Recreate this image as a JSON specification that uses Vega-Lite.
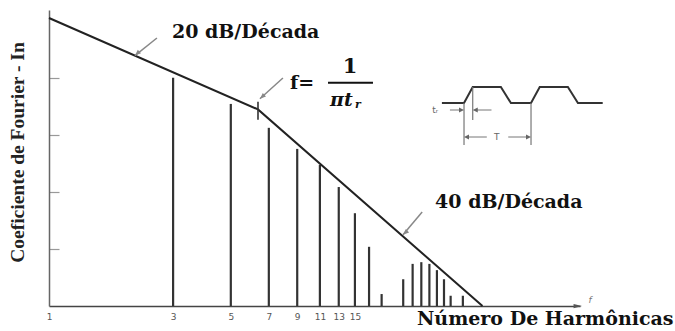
{
  "$schema": "https://vega.github.io/schema/vega-lite/v6.json",
  "width": 531,
  "height": 296,
  "autosize": {"type": "none"},
  "padding": {"left": 49, "top": 10, "right": 95, "bottom": 25},
  "background": "white",
  "config": {"view": {"stroke": null}},
  "datasets": {
    "harmonics": [
      {"n": 3, "v": 40.1}, {"n": 5, "v": 35.5}, {"n": 7, "v": 31.3}, {"n": 9, "v": 27.6},
      {"n": 11, "v": 24.8}, {"n": 13, "v": 20.9}, {"n": 15, "v": 16.3}, {"n": 17, "v": 10.4},
      {"n": 19, "v": 2.1}, {"n": 23, "v": 4.7}, {"n": 25, "v": 7.4}, {"n": 27, "v": 7.7},
      {"n": 29, "v": 7.4}, {"n": 31, "v": 6.3}, {"n": 33, "v": 4.7}, {"n": 35, "v": 1.8},
      {"n": 39, "v": 1.8}
    ],
    "envelope": [
      {"n": 1, "v": 50.6}, {"n": 6.36, "v": 34.53}, {"n": 46.4, "v": 0}
    ],
    "corner": [{"n": 6.36, "v": 32.7, "v2": 35.9}],
    "pointers": [
      {"n": 2.6, "v": 47.08, "n2": 2.14, "v2": 43.99},
      {"n": 7.93, "v": 40.06, "n2": 6.47, "v2": 36.4},
      {"n": 27.2, "v": 16.51, "n2": 22.96, "v2": 12.5}
    ],
    "pointerTips": [
      {"n": 2.14, "v": 43.99}, {"n": 6.47, "v": 36.4}, {"n": 22.96, "v": 12.5}
    ],
    "labels": [
      {"n": 2.97, "v": 48.1, "label": "20 dB/Década"},
      {"n": 30.5, "v": 18.3, "label": "40 dB/Década"},
      {"n": 8.44, "v": 39.2, "label": "f="}
    ],
    "numerator": [{"n": 14.36, "v": 42.0, "label": "1"}],
    "fractionBar": [{"n": 11.82, "n2": 17.6, "v": 39.2}],
    "denominator": [{"n": 12.03, "v": 36.2, "label": "πt"}],
    "subscript": [{"n": 15.0, "v": 35.3, "label": "r"}],
    "axisEnd": [{"n": 112, "v": 0}],
    "axisName": [{"n": 120.2, "v": 1.0, "label": "f"}],
    "wave": [
      {"t": -3.3, "level": 0}, {"t": 0, "level": 0}, {"t": 1.3, "level": 1}, {"t": 5.5, "level": 1},
      {"t": 7.0, "level": 0}, {"t": 10, "level": 0}, {"t": 11.3, "level": 1}, {"t": 15.5, "level": 1},
      {"t": 17.0, "level": 0}, {"t": 20.7, "level": 0}
    ],
    "extension": [
      {"t": 0, "level": 0, "level2": -2.625},
      {"t": 1.3, "level": 1, "level2": -1.0625},
      {"t": 10, "level": 0, "level2": -2.625}
    ],
    "dimension": [
      {"t": -2.1, "t2": -0.3, "level": -0.4375},
      {"t": 4.1, "t2": 1.6, "level": -0.4375},
      {"t": 3.4, "t2": 0.3, "level": -2.125},
      {"t": 6.6, "t2": 9.7, "level": -2.125}
    ],
    "headsRight": [{"t": 0, "level": -0.4375}, {"t": 10, "level": -2.125}],
    "headsLeft": [{"t": 1.3, "level": -0.4375}, {"t": 0, "level": -2.125}],
    "insetText": [
      {"t": -4.3, "level": -0.4375, "label": "tᵣ"},
      {"t": 4.9, "level": -2.125, "label": "T"}
    ]
  },
  "layer": [
    {
      "encoding": {
        "x": {
          "field": "n", "type": "quantitative",
          "scale": {"type": "log", "domain": [1, 110], "nice": false},
          "axis": {
            "values": [1, 3, 5, 7, 9, 11, 13, 15],
            "ticks": false, "grid": false,
            "domainColor": "#444", "domainWidth": 1.5,
            "labelFont": "DejaVu Sans", "labelFontSize": 9, "labelColor": "#555",
            "labelPadding": 6, "labelFlush": false,
            "title": "Número De Harmônicas",
            "titleFont": "DejaVu Serif", "titleFontWeight": "bold", "titleFontSize": 19,
            "titleColor": "#111", "titleAlign": "right", "titleBaseline": "alphabetic",
            "titleX": 624, "titleY": 18
          }
        },
        "y": {
          "field": "v", "type": "quantitative",
          "scale": {"domain": [0, 52], "nice": false},
          "axis": {
            "values": [10, 20, 30, 40],
            "labels": false, "grid": false,
            "tickSize": -10, "tickColor": "#999", "tickWidth": 1.2,
            "domainColor": "#666", "domainWidth": 1.5,
            "title": "Coeficiente de Fourier - In",
            "titleFont": "Liberation Serif", "titleFontWeight": "bold", "titleFontSize": 19.5,
            "titleColor": "#222", "titleAngle": -90, "titleAlign": "center", "titleBaseline": "middle",
            "titleX": -32, "titleY": 142
          }
        }
      },
      "layer": [
        {
          "data": {"name": "harmonics"},
          "mark": {"type": "rule", "color": "#333", "strokeWidth": 2.2},
          "encoding": {"y2": {"datum": 0}}
        },
        {
          "data": {"name": "envelope"},
          "mark": {"type": "line", "color": "#222", "strokeWidth": 2},
          "encoding": {}
        },
        {
          "data": {"name": "corner"},
          "mark": {"type": "rule", "color": "#333", "strokeWidth": 1.6},
          "encoding": {"y2": {"field": "v2"}}
        },
        {
          "data": {"name": "pointers"},
          "mark": {"type": "rule", "color": "#888", "strokeWidth": 1.5},
          "encoding": {"x2": {"field": "n2"}, "y2": {"field": "v2"}}
        },
        {
          "data": {"name": "pointerTips"},
          "mark": {"type": "point", "shape": "M0,0L-1,-0.4L-1,0.4Z", "filled": true, "opacity": 1,
                   "color": "#888", "size": 144, "angle": 138},
          "encoding": {}
        },
        {
          "data": {"name": "labels"},
          "mark": {"type": "text", "font": "DejaVu Serif", "fontWeight": "bold", "fontSize": 19,
                   "align": "left", "baseline": "middle", "color": "#111"},
          "encoding": {"text": {"field": "label"}}
        },
        {
          "data": {"name": "numerator"},
          "mark": {"type": "text", "font": "DejaVu Serif", "fontWeight": "bold", "fontSize": 21,
                   "align": "center", "baseline": "middle", "color": "#111"},
          "encoding": {"text": {"field": "label"}}
        },
        {
          "data": {"name": "fractionBar"},
          "mark": {"type": "rule", "color": "#111", "strokeWidth": 2},
          "encoding": {"x2": {"field": "n2"}}
        },
        {
          "data": {"name": "denominator"},
          "mark": {"type": "text", "font": "DejaVu Serif", "fontWeight": "bold", "fontStyle": "italic",
                   "fontSize": 19, "align": "left", "baseline": "middle", "color": "#111"},
          "encoding": {"text": {"field": "label"}}
        },
        {
          "data": {"name": "subscript"},
          "mark": {"type": "text", "font": "DejaVu Serif", "fontWeight": "bold", "fontStyle": "italic",
                   "fontSize": 11, "align": "left", "baseline": "middle", "color": "#111"},
          "encoding": {"text": {"field": "label"}}
        },
        {
          "data": {"name": "axisEnd"},
          "mark": {"type": "point", "shape": "M0,0L-1,-0.25L-1,0.25Z", "filled": true, "opacity": 1,
                   "color": "#555", "size": 289},
          "encoding": {}
        },
        {
          "data": {"name": "axisName"},
          "mark": {"type": "text", "font": "DejaVu Sans", "fontStyle": "italic", "fontSize": 9,
                   "align": "center", "baseline": "middle", "color": "#777"},
          "encoding": {"text": {"field": "label"}}
        }
      ]
    },
    {
      "encoding": {
        "x": {"field": "t", "type": "quantitative",
              "scale": {"domain": [-61.94, 17.31], "nice": false, "zero": false}, "axis": null},
        "y": {"field": "level", "type": "quantitative",
              "scale": {"domain": [-12.6875, 5.8125], "nice": false, "zero": false}, "axis": null}
      },
      "layer": [
        {
          "data": {"name": "wave"},
          "mark": {"type": "line", "color": "#333", "strokeWidth": 2},
          "encoding": {}
        },
        {
          "data": {"name": "extension"},
          "mark": {"type": "rule", "color": "#777", "strokeWidth": 1.2},
          "encoding": {"y2": {"field": "level2"}}
        },
        {
          "data": {"name": "dimension"},
          "mark": {"type": "rule", "color": "#777", "strokeWidth": 1},
          "encoding": {"x2": {"field": "t2"}}
        },
        {
          "data": {"name": "headsRight"},
          "mark": {"type": "point", "shape": "M0,0L-1,-0.5L-1,0.5Z", "filled": true, "opacity": 1,
                   "color": "#666", "size": 100, "angle": 0},
          "encoding": {}
        },
        {
          "data": {"name": "headsLeft"},
          "mark": {"type": "point", "shape": "M0,0L-1,-0.5L-1,0.5Z", "filled": true, "opacity": 1,
                   "color": "#666", "size": 100, "angle": 180},
          "encoding": {}
        },
        {
          "data": {"name": "insetText"},
          "mark": {"type": "text", "font": "DejaVu Sans", "fontSize": 9, "align": "center",
                   "baseline": "middle", "color": "#666"},
          "encoding": {"text": {"field": "label"}}
        }
      ]
    }
  ],
  "resolve": {"scale": {"x": "independent", "y": "independent"}}
}
